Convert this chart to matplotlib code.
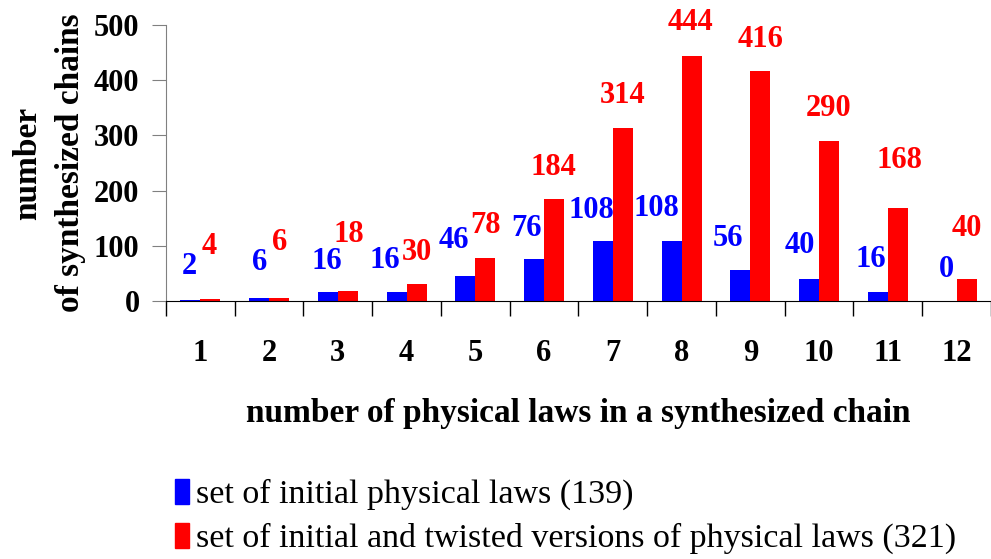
import numpy as np
import matplotlib.pyplot as plt
from matplotlib.patches import Patch

plt.rcParams['font.family'] = ['Liberation Serif', 'DejaVu Serif']

laws = ['1', '2', '3', '4', '5', '6', '7', '8', '9', '10', '11', '12']
initial = [2, 6, 16, 16, 46, 76, 108, 108, 56, 40, 16, 0]
twisted = [4, 6, 18, 30, 78, 184, 314, 444, 416, 290, 168, 40]
series_names = ['set of initial physical laws (139)',
                'set of initial and twisted versions of physical laws (321)']

# label offsets in pixels (dx, dy) from bar top centre
off_blue = [(-1, 33), (0, 35), (-1, 31), (-12, 32), (-12, 35), (-8, 31),
            (-12, 31), (-15, 33), (-12, 32), (-9, 33), (-7, 33), (0, 32)]
off_red = [(-1, 52), (1, 55), (1, 57), (0, 32), (0, 32), (-1, 32),
           (0, 32), (-1, 33), (0, 32), (-1, 32), (2, 48), (0, 50)]

fig = plt.figure(figsize=(9.91, 5.59), dpi=100)
ax = fig.add_axes([0.1675, 0.4615, 0.8325, 0.4938])

x = np.arange(len(laws))
w = 0.29
ax.bar(x - w / 2, initial, w, color='#0000FF', label=series_names[0])
ax.bar(x + w / 2, twisted, w, color='#FF0000', label=series_names[1])

for i in range(len(laws)):
    ax.annotate(str(initial[i]), (x[i] - w / 2, initial[i]), xytext=off_blue[i],
                textcoords='offset pixels', ha='center', va='center',
                color='#0000FF', fontsize=22, fontweight='bold')
    ax.annotate(str(twisted[i]), (x[i] + w / 2, twisted[i]), xytext=off_red[i],
                textcoords='offset pixels', ha='center', va='center',
                color='#FF0000', fontsize=22, fontweight='bold')

ax.set_xlim(-0.5, len(laws) - 0.5)
ax.set_ylim(0, 500)
ax.set_yticks(range(0, 501, 100))
ax.set_xticks(x)
ax.set_xticklabels(laws)
ax.set_xticks(np.arange(-0.5, len(laws)), minor=True)
ax.tick_params(axis='x', which='major', length=0, pad=27, labelsize=22)
ax.tick_params(axis='x', which='minor', length=11, direction='out', width=1)
ax.tick_params(axis='y', length=10, direction='out', pad=9, labelsize=22,
               color='#808080')
for lab in ax.get_xticklabels() + ax.get_yticklabels():
    lab.set_fontweight('bold')

for s in ['top', 'right']:
    ax.spines[s].set_visible(False)
ax.spines['left'].set_color('#808080')
ax.spines['bottom'].set_color('black')

ax.set_xlabel('number of physical laws in a synthesized chain', fontsize=24,
              fontweight='bold', labelpad=22)
ax.set_ylabel('number\nof synthesized chains', fontsize=24, fontweight='bold',
              linespacing=1.5, labelpad=6)

fig.legend(handles=[Patch(color='#0000FF'), Patch(color='#FF0000')],
           labels=series_names, loc='upper left', bbox_to_anchor=(0.163, 0.168),
           frameon=False, fontsize=24.5, handlelength=0.4, handleheight=0.75,
           handletextpad=0.2, labelspacing=0.37, borderaxespad=0)

fig.savefig('out.png', dpi=100)
